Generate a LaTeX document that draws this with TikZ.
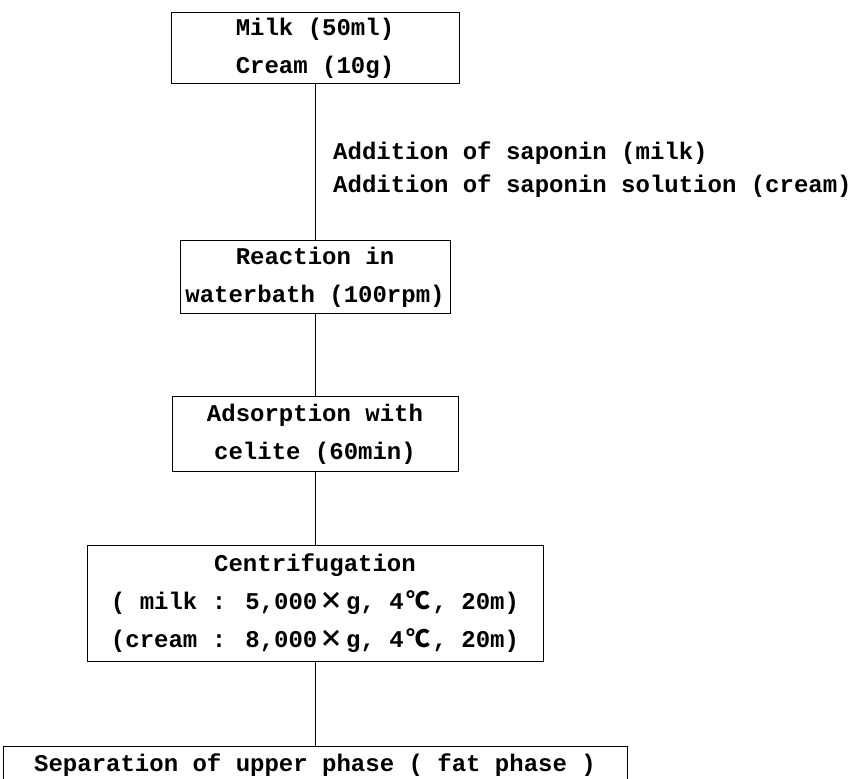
\documentclass[tikz,border=0pt]{standalone}
\usepackage{fontspec}
\setmainfont{Liberation Mono}
\newfontfamily\cjkfont{Noto Sans CJK JP}
% full-width symbols occupy two character cells of the mono font
\newcommand{\tms}{\makebox[28.8pt][c]{\cjkfont\bfseries ×}}
\newcommand{\dgc}{\makebox[28.8pt][c]{\cjkfont\bfseries ℃}}
\begin{document}
\begin{tikzpicture}[x=1pt,y=-1pt,
  every node/.style={font=\fontsize{24}{38}\selectfont\bfseries, inner sep=0pt},
  stepbox/.style={draw, line width=0.9pt, align=center, anchor=north},
  link/.style={line width=0.9pt}]
  \useasboundingbox (0,0) rectangle (857,779);
  \clip (0,0) rectangle (857,779);

  % process boxes, all centred on the vertical flow line x = 315
  \node[stepbox, minimum width=288pt, minimum height=71pt] (b1) at (315,12)
    {Milk (50ml)\\Cream (10g)};
  \node[stepbox, minimum width=270pt, minimum height=73pt] (b2) at (315,240)
    {Reaction in\\waterbath (100rpm)};
  \node[stepbox, minimum width=286pt, minimum height=75pt] (b3) at (315,396)
    {Adsorption with\\celite (60min)};
  \node[stepbox, minimum width=456pt, minimum height=116pt] (b4) at (315,545)
    {Centrifugation\\( milk : 5,000\tms g, 4\dgc, 20m)\\(cream : 8,000\tms g, 4\dgc, 20m)};
  \node[stepbox, minimum width=624pt, minimum height=38pt] (b5) at (315,746)
    {Separation of upper phase ( fat phase )};

  % flow lines
  \draw[link] (b1.south) -- (b2.north);
  \draw[link] (b2.south) -- (b3.north);
  \draw[link] (b3.south) -- (b4.north);
  \draw[link] (b4.south) -- (b5.north);

  % reagent note beside the first step
  \node[align=left, anchor=west, font=\fontsize{24}{33}\selectfont\bfseries] (note) at (333,170)
    {Addition of saponin (milk)\\Addition of saponin solution (cream)};
\end{tikzpicture}
\end{document}
